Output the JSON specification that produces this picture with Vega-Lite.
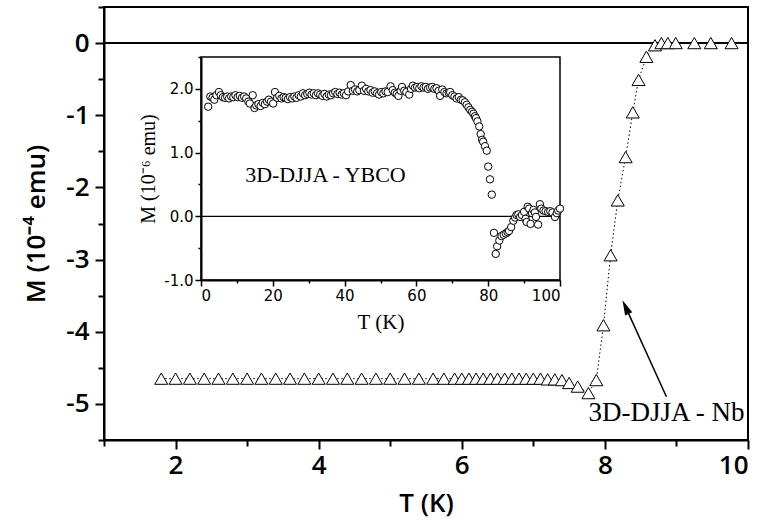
{
  "$schema": "https://vega.github.io/schema/vega-lite/v6.json",
  "autosize": {"type": "none"},
  "padding": {"left": 104, "top": 7, "right": 17, "bottom": 85},
  "width": 644,
  "height": 433,
  "background": "white",
  "config": {
    "view": {"stroke": "black", "strokeWidth": 2},
    "axis": {"grid": false, "domainColor": "black", "tickColor": "black", "labelColor": "black", "titleColor": "black", "labelOverlap": false}
  },
  "datasets": {
    "nb": [
      {"T": 1.8, "M": -4.65}, {"T": 2.0, "M": -4.65}, {"T": 2.2, "M": -4.65}, {"T": 2.4, "M": -4.65},
      {"T": 2.6, "M": -4.65}, {"T": 2.8, "M": -4.65}, {"T": 3.0, "M": -4.65}, {"T": 3.2, "M": -4.65},
      {"T": 3.4, "M": -4.65}, {"T": 3.6, "M": -4.65}, {"T": 3.8, "M": -4.65}, {"T": 4.0, "M": -4.65},
      {"T": 4.2, "M": -4.65}, {"T": 4.4, "M": -4.65}, {"T": 4.6, "M": -4.65}, {"T": 4.8, "M": -4.65},
      {"T": 5.0, "M": -4.65}, {"T": 5.2, "M": -4.65}, {"T": 5.4, "M": -4.65}, {"T": 5.6, "M": -4.65},
      {"T": 5.75, "M": -4.65}, {"T": 5.9, "M": -4.65}, {"T": 6.0, "M": -4.65}, {"T": 6.1, "M": -4.65},
      {"T": 6.2, "M": -4.65}, {"T": 6.3, "M": -4.65}, {"T": 6.4, "M": -4.65}, {"T": 6.5, "M": -4.65},
      {"T": 6.6, "M": -4.65}, {"T": 6.7, "M": -4.65}, {"T": 6.8, "M": -4.65}, {"T": 6.9, "M": -4.65},
      {"T": 7.0, "M": -4.65}, {"T": 7.1, "M": -4.65}, {"T": 7.2, "M": -4.66}, {"T": 7.3, "M": -4.66},
      {"T": 7.4, "M": -4.67}, {"T": 7.5, "M": -4.71}, {"T": 7.62, "M": -4.76}, {"T": 7.77, "M": -4.85},
      {"T": 7.88, "M": -4.67}, {"T": 7.98, "M": -3.91}, {"T": 8.08, "M": -2.94}, {"T": 8.18, "M": -2.18},
      {"T": 8.29, "M": -1.58}, {"T": 8.39, "M": -0.96}, {"T": 8.47, "M": -0.51}, {"T": 8.58, "M": -0.19},
      {"T": 8.7, "M": -0.03}, {"T": 8.79, "M": 0.0}, {"T": 8.88, "M": 0.0}, {"T": 8.99, "M": 0.0},
      {"T": 9.25, "M": 0.0}, {"T": 9.48, "M": 0.0}, {"T": 9.77, "M": 0.0}
    ],
    "ybco": [
      {"T": 2.0, "M": 1.72}, {"T": 2.6, "M": 1.88}, {"T": 3.2, "M": 1.86}, {"T": 3.7, "M": 1.83}, {"T": 4.3, "M": 1.9},
      {"T": 5.0, "M": 1.95}, {"T": 5.5, "M": 1.9}, {"T": 6.1, "M": 1.87}, {"T": 6.7, "M": 1.86}, {"T": 7.3, "M": 1.88},
      {"T": 7.8, "M": 1.85}, {"T": 8.4, "M": 1.88}, {"T": 9.0, "M": 1.87}, {"T": 9.6, "M": 1.9}, {"T": 10.2, "M": 1.87},
      {"T": 10.8, "M": 1.89}, {"T": 11.4, "M": 1.86}, {"T": 12.0, "M": 1.88}, {"T": 12.6, "M": 1.85}, {"T": 13.2, "M": 1.8},
      {"T": 13.6, "M": 1.77}, {"T": 14.4, "M": 1.9}, {"T": 14.9, "M": 1.7}, {"T": 15.4, "M": 1.74}, {"T": 16.0, "M": 1.76},
      {"T": 16.6, "M": 1.73}, {"T": 17.2, "M": 1.78}, {"T": 17.8, "M": 1.76}, {"T": 18.4, "M": 1.8}, {"T": 18.9, "M": 1.83},
      {"T": 19.5, "M": 1.8}, {"T": 20.1, "M": 1.77}, {"T": 20.6, "M": 1.95}, {"T": 21.2, "M": 1.86}, {"T": 21.8, "M": 1.89},
      {"T": 22.4, "M": 1.85}, {"T": 23.0, "M": 1.87}, {"T": 23.6, "M": 1.86}, {"T": 24.2, "M": 1.84}, {"T": 24.8, "M": 1.87},
      {"T": 25.4, "M": 1.85}, {"T": 26.0, "M": 1.88}, {"T": 26.6, "M": 1.86}, {"T": 27.2, "M": 1.9}, {"T": 27.8, "M": 1.88},
      {"T": 28.4, "M": 1.93}, {"T": 29.0, "M": 1.9}, {"T": 29.6, "M": 1.92}, {"T": 30.2, "M": 1.94}, {"T": 30.8, "M": 1.91},
      {"T": 31.4, "M": 1.93}, {"T": 32.0, "M": 1.9}, {"T": 32.6, "M": 1.93}, {"T": 33.2, "M": 1.91}, {"T": 33.8, "M": 1.89},
      {"T": 34.4, "M": 1.92}, {"T": 35.0, "M": 1.88}, {"T": 35.6, "M": 1.91}, {"T": 36.2, "M": 1.9}, {"T": 36.8, "M": 1.93},
      {"T": 37.4, "M": 1.95}, {"T": 38.0, "M": 1.92}, {"T": 38.6, "M": 1.94}, {"T": 39.2, "M": 1.91}, {"T": 39.8, "M": 1.93},
      {"T": 40.4, "M": 1.9}, {"T": 41.0, "M": 1.96}, {"T": 41.7, "M": 2.06}, {"T": 42.3, "M": 1.97}, {"T": 42.9, "M": 1.99},
      {"T": 43.5, "M": 1.96}, {"T": 44.1, "M": 1.98}, {"T": 44.8, "M": 2.05}, {"T": 45.4, "M": 1.97}, {"T": 46.0, "M": 2.0},
      {"T": 46.6, "M": 1.96}, {"T": 47.2, "M": 1.98}, {"T": 47.8, "M": 1.94}, {"T": 48.4, "M": 1.96}, {"T": 49.0, "M": 1.93},
      {"T": 49.6, "M": 1.91}, {"T": 50.2, "M": 1.95}, {"T": 50.8, "M": 1.93}, {"T": 51.4, "M": 1.96}, {"T": 52.0, "M": 1.95},
      {"T": 52.8, "M": 2.04}, {"T": 53.4, "M": 1.98}, {"T": 54.0, "M": 1.94}, {"T": 54.5, "M": 1.92}, {"T": 55.0, "M": 1.89},
      {"T": 55.6, "M": 1.97}, {"T": 56.0, "M": 2.03}, {"T": 56.6, "M": 1.97}, {"T": 57.2, "M": 1.95}, {"T": 58.0, "M": 1.91},
      {"T": 58.5, "M": 2.0}, {"T": 59.0, "M": 2.05}, {"T": 59.6, "M": 2.02}, {"T": 60.2, "M": 2.03}, {"T": 60.8, "M": 2.01},
      {"T": 61.4, "M": 2.04}, {"T": 62.0, "M": 2.02}, {"T": 62.6, "M": 2.03}, {"T": 63.2, "M": 2.0}, {"T": 63.8, "M": 2.02},
      {"T": 64.4, "M": 2.03}, {"T": 65.0, "M": 2.0}, {"T": 65.6, "M": 2.01}, {"T": 66.2, "M": 1.97}, {"T": 66.6, "M": 1.89},
      {"T": 67.2, "M": 1.99}, {"T": 67.8, "M": 1.95}, {"T": 68.4, "M": 1.93}, {"T": 69.0, "M": 1.94}, {"T": 69.4, "M": 1.95},
      {"T": 70.0, "M": 1.9}, {"T": 70.6, "M": 1.88}, {"T": 71.2, "M": 1.85}, {"T": 71.8, "M": 1.87}, {"T": 72.4, "M": 1.83},
      {"T": 72.9, "M": 1.82}, {"T": 73.5, "M": 1.79}, {"T": 74.0, "M": 1.75}, {"T": 74.5, "M": 1.71}, {"T": 75.0, "M": 1.67},
      {"T": 75.5, "M": 1.64}, {"T": 75.9, "M": 1.61}, {"T": 76.3, "M": 1.57}, {"T": 76.6, "M": 1.54}, {"T": 77.0, "M": 1.49},
      {"T": 77.5, "M": 1.41}, {"T": 77.9, "M": 1.29}, {"T": 78.3, "M": 1.2}, {"T": 78.6, "M": 1.17}, {"T": 79.1, "M": 1.1},
      {"T": 79.6, "M": 1.03}, {"T": 80.0, "M": 0.78}, {"T": 80.5, "M": 0.58}, {"T": 81.0, "M": 0.34}, {"T": 81.6, "M": -0.26},
      {"T": 82.1, "M": -0.59}, {"T": 82.5, "M": -0.47}, {"T": 83.1, "M": -0.38}, {"T": 83.7, "M": -0.31}, {"T": 84.3, "M": -0.29},
      {"T": 84.9, "M": -0.27}, {"T": 85.4, "M": -0.25}, {"T": 85.8, "M": -0.23}, {"T": 86.4, "M": -0.17}, {"T": 87.0, "M": -0.07},
      {"T": 87.5, "M": -0.02}, {"T": 87.9, "M": 0.02}, {"T": 88.4, "M": 0.03}, {"T": 88.9, "M": -0.01}, {"T": 89.4, "M": 0.02},
      {"T": 90.0, "M": 0.07}, {"T": 90.4, "M": -0.04}, {"T": 90.7, "M": -0.09}, {"T": 91.0, "M": 0.15}, {"T": 91.4, "M": 0.12},
      {"T": 91.8, "M": -0.12}, {"T": 92.2, "M": 0.05}, {"T": 92.6, "M": 0.1}, {"T": 93.0, "M": 0.06}, {"T": 93.3, "M": -0.01},
      {"T": 93.9, "M": -0.13}, {"T": 94.4, "M": 0.19}, {"T": 94.8, "M": 0.12}, {"T": 95.4, "M": 0.09}, {"T": 96.0, "M": 0.08},
      {"T": 96.7, "M": 0.07}, {"T": 97.3, "M": 0.08}, {"T": 97.9, "M": 0.06}, {"T": 98.6, "M": -0.01}, {"T": 99.1, "M": 0.05},
      {"T": 99.5, "M": 0.09}, {"T": 100.0, "M": 0.12}
    ],
    "zero": [{"T": 1, "T2": 10, "M": 0}],
    "arrow": [{"T": 8.86, "M": -4.9, "T2": 8.3, "M2": -3.68}],
    "nblabel": [{"T": 7.77, "M": -5.12, "label": "3D-DJJA - Nb"}],
    "frame": [{"T": 0, "T2": 100, "M": -1, "M2": 2.5, "Z": 0, "label": "3D-DJJA - YBCO", "LT": 12.3, "LM": 0.65}]
  },
  "layer": [
    {
      "layer": [
        {
          "data": {"name": "zero"},
          "mark": {"type": "rule", "color": "black", "strokeWidth": 2},
          "encoding": {
            "x": {
              "field": "T", "type": "quantitative",
              "scale": {"domain": [1, 10], "nice": false, "zero": false},
              "axis": {
                "orient": "bottom", "title": "T (K)",
                "values": [1, 2, 3, 4, 5, 6, 7, 8, 9, 10],
                "labelExpr": "datum.value % 2 === 0 ? '' + datum.value : ''",
                "tickSize": {"condition": {"test": "datum.value % 2 === 0", "value": 9}, "value": 6},
                "tickWidth": 2, "domainWidth": 2,
                "labelFont": "Open Sans", "labelFontSize": 26, "labelFontWeight": 600, "labelPadding": 3,
                "titleFont": "Open Sans", "titleFontSize": 26, "titleFontWeight": 600, "titlePadding": 12
              }
            },
            "x2": {"field": "T2"},
            "y": {
              "field": "M", "type": "quantitative",
              "scale": {"domain": [-5.5, 0.5], "nice": false, "zero": false},
              "axis": {
                "orient": "left", "title": "M (10⁻⁴ emu)",
                "values": [0, -1, -2, -3, -4, -5],
                "labelExpr": "datum.value < 0 ? '-' + abs(datum.value) : '0'",
                "tickSize": 9,
                "tickWidth": 2, "domainWidth": 2,
                "labelFont": "Open Sans", "labelFontSize": 26, "labelFontWeight": 600, "labelPadding": 6,
                "titleFont": "Open Sans", "titleFontSize": 26, "titleFontWeight": 600, "titlePadding": 16
              }
            }
          }
        },
        {
          "data": {"name": "nb"},
          "mark": {"type": "line", "color": "black", "strokeWidth": 1, "strokeDash": [1.5, 2.5]},
          "encoding": {
            "x": {"field": "T", "type": "quantitative"},
            "y": {"field": "M", "type": "quantitative"}
          }
        },
        {
          "data": {"name": "nb"},
          "mark": {"type": "point", "shape": "triangle-up", "filled": true, "fill": "white", "stroke": "black", "strokeWidth": 1, "size": 170, "opacity": 1},
          "encoding": {
            "x": {"field": "T", "type": "quantitative"},
            "y": {"field": "M", "type": "quantitative"}
          }
        },
        {
          "data": {"name": "arrow"},
          "mark": {"type": "rule", "color": "black", "strokeWidth": 1.5},
          "encoding": {
            "x": {"field": "T", "type": "quantitative"},
            "y": {"field": "M", "type": "quantitative"},
            "x2": {"field": "T2"},
            "y2": {"field": "M2"}
          }
        },
        {
          "data": {"name": "arrow"},
          "mark": {"type": "point", "shape": "M0,-1L0.42,0.6L-0.42,0.6Z", "filled": true, "color": "black", "size": 350, "angle": -24.4, "opacity": 1},
          "encoding": {
            "x": {"field": "T2", "type": "quantitative"},
            "y": {"field": "M2", "type": "quantitative"}
          }
        },
        {
          "data": {"name": "nblabel"},
          "mark": {"type": "text", "font": "Liberation Serif", "fontSize": 27, "align": "left", "baseline": "middle", "color": "black"},
          "encoding": {
            "x": {"field": "T", "type": "quantitative"},
            "y": {"field": "M", "type": "quantitative"},
            "text": {"field": "label"}
          }
        }
      ]
    },
    {
      "data": {"name": "zero"},
      "mark": {"type": "rule", "opacity": 0},
      "encoding": {
        "y": {
          "field": "M", "type": "quantitative",
          "scale": {"domain": [-5.5, 0.5], "nice": false, "zero": false},
          "axis": {
            "orient": "left", "title": null, "labels": false, "domain": false,
            "values": [0.5, -0.5, -1.5, -2.5, -3.5, -4.5, -5.5],
            "tickSize": 6, "tickWidth": 2
          }
        }
      }
    },
    {
      "layer": [
        {
          "data": {"name": "frame"},
          "mark": {"type": "rect", "fill": "white", "stroke": "black", "strokeWidth": 1.5},
          "encoding": {
            "x": {
              "field": "T", "type": "quantitative",
              "scale": {"domain": [0, 100], "range": [97, 456], "nice": false, "zero": false},
              "axis": {
                "orient": "bottom", "offset": -160, "zindex": 1, "title": "T (K)",
                "values": [0, 10, 20, 30, 40, 50, 60, 70, 80, 90, 100],
                "labelExpr": "datum.value % 20 === 0 ? '' + datum.value : ''",
                "tickSize": {"condition": {"test": "datum.value % 20 === 0", "value": 6}, "value": 3},
                "tickWidth": 1.5, "domainWidth": 2,
                "labelFont": "DejaVu Sans", "labelFontSize": 15, "labelPadding": 2,
                "titleFont": "Liberation Serif", "titleFontSize": 21, "titleFontWeight": "normal", "titlePadding": 8
              }
            },
            "x2": {"field": "T2"},
            "y": {
              "field": "M", "type": "quantitative",
              "scale": {"domain": [-1, 2.5], "range": [273, 50], "nice": false, "zero": false},
              "axis": {
                "orient": "left", "offset": -97, "zindex": 1, "title": "M (10⁻⁶ emu)",
                "values": [-1, -0.5, 0, 0.5, 1, 1.5, 2, 2.5],
                "labelExpr": "datum.value === round(datum.value) ? (datum.value < 0 ? '-' + format(abs(datum.value), '.1f') : format(datum.value, '.1f')) : ''",
                "tickSize": {"condition": {"test": "datum.value === round(datum.value)", "value": 6}, "value": 3},
                "tickWidth": 1.5, "domainWidth": 2,
                "labelFont": "DejaVu Sans", "labelFontSize": 15, "labelPadding": 2,
                "titleFont": "Liberation Serif", "titleFontSize": 20, "titleFontWeight": "normal", "titlePadding": 5
              }
            },
            "y2": {"field": "M2"}
          }
        },
        {
          "data": {"name": "frame"},
          "mark": {"type": "rule", "color": "black", "strokeWidth": 1.2},
          "encoding": {
            "x": {"field": "T", "type": "quantitative"},
            "x2": {"field": "T2"},
            "y": {"field": "Z", "type": "quantitative"}
          }
        },
        {
          "data": {"name": "ybco"},
          "mark": {"type": "point", "shape": "circle", "filled": true, "fill": "white", "stroke": "black", "strokeWidth": 1, "size": 55, "opacity": 1},
          "encoding": {
            "x": {"field": "T", "type": "quantitative"},
            "y": {"field": "M", "type": "quantitative"}
          }
        },
        {
          "data": {"name": "frame"},
          "mark": {"type": "text", "font": "Liberation Serif", "fontSize": 22, "align": "left", "baseline": "middle", "color": "black"},
          "encoding": {
            "x": {"field": "LT", "type": "quantitative"},
            "y": {"field": "LM", "type": "quantitative"},
            "text": {"field": "label"}
          }
        }
      ]
    }
  ],
  "resolve": {
    "scale": {"x": "independent", "y": "independent"},
    "axis": {"x": "independent", "y": "independent"}
  }
}
